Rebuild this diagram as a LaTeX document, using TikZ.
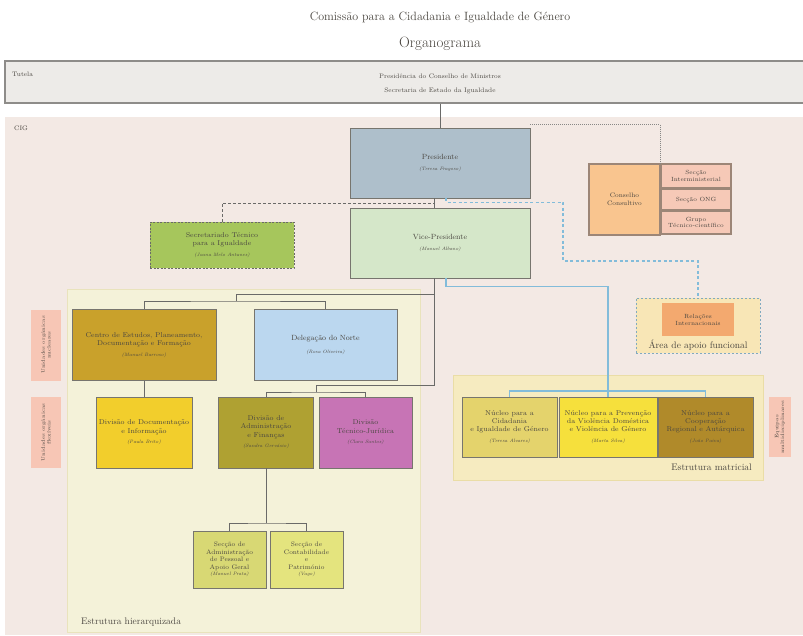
\documentclass[tikz,border=0pt]{standalone}
\usepackage{tikz}
\usetikzlibrary{calc}

\definecolor{cigbg}{HTML}{F3E9E4}
\definecolor{tutbg}{HTML}{EDEBE8}
\definecolor{tutline}{HTML}{8E8C89}
\definecolor{boxline}{HTML}{77756E}
\definecolor{linkgray}{HTML}{6A6A68}
\definecolor{linkblue}{HTML}{82BCDA}
\definecolor{txt}{HTML}{4A4640}
\definecolor{cPres}{HTML}{AEBFCB}
\definecolor{cVice}{HTML}{D5E7C9}
\definecolor{cSecr}{HTML}{A6C65C}
\definecolor{cCons}{HTML}{F9C58F}
\definecolor{cCell}{HTML}{F6C9B7}
\definecolor{consline}{HTML}{9C8677}
\definecolor{cArea}{HTML}{F8E6B6}
\definecolor{cRel}{HTML}{F3A96F}
\definecolor{cHier}{HTML}{F4F2D9}
\definecolor{hierline}{HTML}{E9E3BC}
\definecolor{cMatr}{HTML}{F6EBC0}
\definecolor{matrline}{HTML}{EADDA6}
\definecolor{cCentro}{HTML}{C9A12B}
\definecolor{cDeleg}{HTML}{BBD7EF}
\definecolor{cDoc}{HTML}{F2CE2C}
\definecolor{cAdmin}{HTML}{AFA132}
\definecolor{cTecj}{HTML}{C774B5}
\definecolor{cSecA}{HTML}{D8D874}
\definecolor{cSecB}{HTML}{E4E47E}
\definecolor{cNucA}{HTML}{E4D36C}
\definecolor{cNucB}{HTML}{F6E03C}
\definecolor{cNucC}{HTML}{B08A2A}
\definecolor{cSide}{HTML}{F7C6B5}

\tikzset{
  unit/.style={draw=boxline, line width=0.9pt, align=center, inner sep=1pt, text=txt,
    font=\fontsize{7}{8.2}\selectfont},
  cell/.style={draw=consline, line width=1.4pt, fill=cCell, align=center, inner sep=0.5pt,
    text=txt, minimum width=70, font=\fontsize{6}{6.8}\selectfont},
  sidelab/.style={fill=cSide, align=center, inner sep=0.5pt, rotate=90, text=txt,
    font=\fontsize{5}{5.8}\selectfont},
  link/.style={draw=linkgray, line width=0.9pt},
  bluelink/.style={draw=linkblue, line width=1.1pt},
  bluedash/.style={draw=linkblue, line width=1.1pt, dash pattern=on 3pt off 2.5pt},
  graydash/.style={draw=linkgray, line width=1pt, dash pattern=on 3pt off 2pt},
  graydot/.style={draw=linkgray!80, line width=0.8pt, dash pattern=on 1pt off 1pt},
  lbl/.style={text=txt, inner sep=0pt},
}
\newcommand{\who}[1]{\\[2.5pt]{\fontsize{4.8}{6}\selectfont\itshape(#1)}}

\begin{document}
\begin{tikzpicture}[x=1pt,y=-1pt]
\useasboundingbox (0,0) rectangle (803,635);
\fill[white] (0,0) rectangle (803,635);

% titulos
\node[lbl, font=\fontsize{12}{14}\selectfont] (title) at (440,18) {Comissão para a Cidadania e Igualdade de Género};
\node[lbl, font=\fontsize{15}{17}\selectfont] (orga) at (440,44) {Organograma};

% fundos
\fill[cigbg] (5,117) rectangle (803,635);										% CIG
\node[lbl, anchor=west, font=\fontsize{6.5}{8}\selectfont] (cig) at (14,128) {CIG};
\fill[cHier] (67,289) rectangle (420,632);									% estrutura hierarquizada
\draw[hierline, line width=0.8pt] (67,289) rectangle (420,632);
\node[lbl, anchor=west, font=\fontsize{9.5}{11}\selectfont] (hier) at (81,622) {Estrutura hierarquizada};
\fill[cMatr] (453,375) rectangle (763,480);									% estrutura matricial
\draw[matrline, line width=0.8pt] (453,375) rectangle (763,480);
\node[lbl, anchor=east, font=\fontsize{9.5}{11}\selectfont] (matr) at (752,467) {Estrutura matricial};

% tutela
\node[draw=tutline, line width=1.6pt, fill=tutbg, minimum width=800, minimum height=42, inner sep=0pt] (tutela) at (405,82) {};
\node[lbl, anchor=west, font=\fontsize{6.5}{8}\selectfont] (tut) at (12,74) {Tutela};
\node[lbl, align=center, font=\fontsize{6.5}{14}\selectfont] (pcm) at (440,84) {Presidência do Conselho de Ministros\\Secretaria de Estado da Igualdade};

% direcao
\node[unit, fill=cPres, minimum width=180, minimum height=70, font=\fontsize{7.5}{9}\selectfont] (pres) at (440,163) {Presidente\who{Teresa Fragoso}};
\node[unit, fill=cVice, minimum width=180, minimum height=70, font=\fontsize{7.5}{9}\selectfont] (vice) at (440,243) {Vice-Presidente\who{Manuel Albano}};
\node[unit, fill=cSecr, draw=linkgray, dash pattern=on 2pt off 1.5pt, minimum width=144, minimum height=46] (secr) at (222,245) {Secretariado Técnico\\para a Igualdade\who{Joana Melo Antunes}};

% conselho consultivo
\node[unit, draw=consline, line width=1.4pt, fill=cCons, minimum width=71, minimum height=71, font=\fontsize{6.5}{7.5}\selectfont] (cons) at (624.5,199.5) {Conselho\\Consultivo};
\node[cell, minimum height=24] (inter) at (696,176) {Secção\\Interministerial};
\node[cell, minimum height=21] (ong) at (696,199.5) {Secção ONG};
\node[cell, minimum height=23] (grupo) at (696,222.5) {Grupo\\Técnico-científico};

% area de apoio funcional
\node[draw=linkblue!70!gray, line width=1pt, dash pattern=on 2pt off 2pt, fill=cArea, minimum width=124, minimum height=55] (area) at (698,325.5) {};
\node[unit, draw=none, fill=cRel, minimum width=72, minimum height=33, font=\fontsize{6}{7}\selectfont] (relint) at (698,319.5) {Relações\\Internacionais};
\node[lbl, font=\fontsize{9.5}{11}\selectfont] (areat) at (698,345.5) {Área de apoio funcional};

% unidades nucleares
\node[unit, fill=cCentro, minimum width=144, minimum height=71] (centro) at (144,345) {Centro de Estudos, Planeamento,\\Documentação e Formação\who{Manuel Barroso}};
\node[unit, fill=cDeleg, minimum width=143, minimum height=71, font=\fontsize{7.5}{9}\selectfont] (deleg) at (325.5,345) {Delegação do Norte\\[4pt]{\fontsize{4.8}{6}\selectfont\itshape(Rosa Oliveira)}};

% unidades flexiveis
\node[unit, fill=cDoc, minimum width=96, minimum height=71] (doc) at (144,432.5) {Divisão de Documentação\\e Informação\who{Paula Brito}};
\node[unit, fill=cAdmin, minimum width=95, minimum height=71] (admin) at (266,432.5) {Divisão de\\Administração\\e Finanças\who{Sandra Gervásio}};
\node[unit, fill=cTecj, minimum width=93, minimum height=71] (tecj) at (365.5,432.5) {Divisão\\Técnico-Jurídica\who{Clara Santos}};
\node[unit, fill=cSecA, minimum width=73, minimum height=57, font=\fontsize{6.5}{7.6}\selectfont] (secA) at (229.5,559.5) {Secção de\\Administração\\de Pessoal e\\Apoio Geral\\[-1pt]{\fontsize{4.8}{6}\selectfont\itshape(Manuel Prata)}};
\node[unit, fill=cSecB, minimum width=73, minimum height=57, font=\fontsize{6.5}{7.6}\selectfont] (secB) at (306.5,559.5) {Secção de\\Contabilidade\\e\\Património\\[-1pt]{\fontsize{4.8}{6}\selectfont\itshape(Vago)}};

% equipas
\node[unit, fill=cNucA, minimum width=95, minimum height=60] (nucA) at (509.5,427) {Núcleo para a\\Cidadania\\e Igualdade de Género\who{Teresa Alvarez}};
\node[unit, fill=cNucB, minimum width=98, minimum height=60] (nucB) at (608,427) {Núcleo para a Prevenção\\da Violência Doméstica\\e Violência de Género\who{Marta Silva}};
\node[unit, fill=cNucC, minimum width=95, minimum height=60] (nucC) at (705.5,427) {Núcleo para a\\Cooperação\\Regional e Autárquica\who{João Paiva}};

% rotulos laterais
\node[sidelab, minimum width=71, minimum height=30] (ladoA) at (46,345) {Unidades orgânicas\\nucleares};
\node[sidelab, minimum width=71, minimum height=30] (ladoB) at (46,432.5) {Unidades orgânicas\\flexíveis};
\node[sidelab, minimum width=60, minimum height=22] (ladoC) at (780,427) {Equipas\\multidisciplinares};

% pontos de ligacao
\coordinate (pv) at ($(pres.south)!0.5!(vice.north)+(-6,0)$);
\coordinate (bendA) at (563,261);
\coordinate (hb) at (236,301);
\coordinate (vdown) at (434,385);
\coordinate (fb) at (316,392);
\coordinate (sb) at (266,523);
\coordinate (nb) at (608,391);

% ligacoes
\draw[link] (tutela.south -| pres.north) -- (pres.north);						% tutela - presidente
\draw[graydot] ([yshift=3]pres.north east) -| (inter.north west);				% presidente - conselho
\draw[link] ([xshift=-6]pres.south) -- ([xshift=-6]vice.north);					% presidente - vice
\draw[graydash] (secr.north) |- (pv);											% secretariado
\draw[bluedash] ([xshift=6]pres.south) -- ++(0,4) -| (bendA) -| (area.north);		% apoio funcional
\draw[link] ([xshift=-6]vice.south) -- (vdown) -| (fb);						% vice - divisoes
\draw[link] ([xshift=-6]vice.south |- 0,294) -| (hb);							% vice - nucleares
\draw[link] (centro.north) |- (hb) -| (deleg.north);
\draw[link] (centro.south) -- (doc.north);									% centro - documentacao
\draw[link] (admin.north) |- (fb) -| (tecj.north);
\draw[link] (admin.south) -- (sb);											% administracao - seccoes
\draw[link] (secA.north) |- (sb) -| (secB.north);
\draw[bluelink] ([xshift=6]vice.south) -- ++(0,8) -| (nb);					% vice - equipas
\draw[bluelink] (nucA.north) |- (nb) -| (nucC.north);
\draw[bluelink] (nb) -- (nucB.north);

\end{tikzpicture}
\end{document}
